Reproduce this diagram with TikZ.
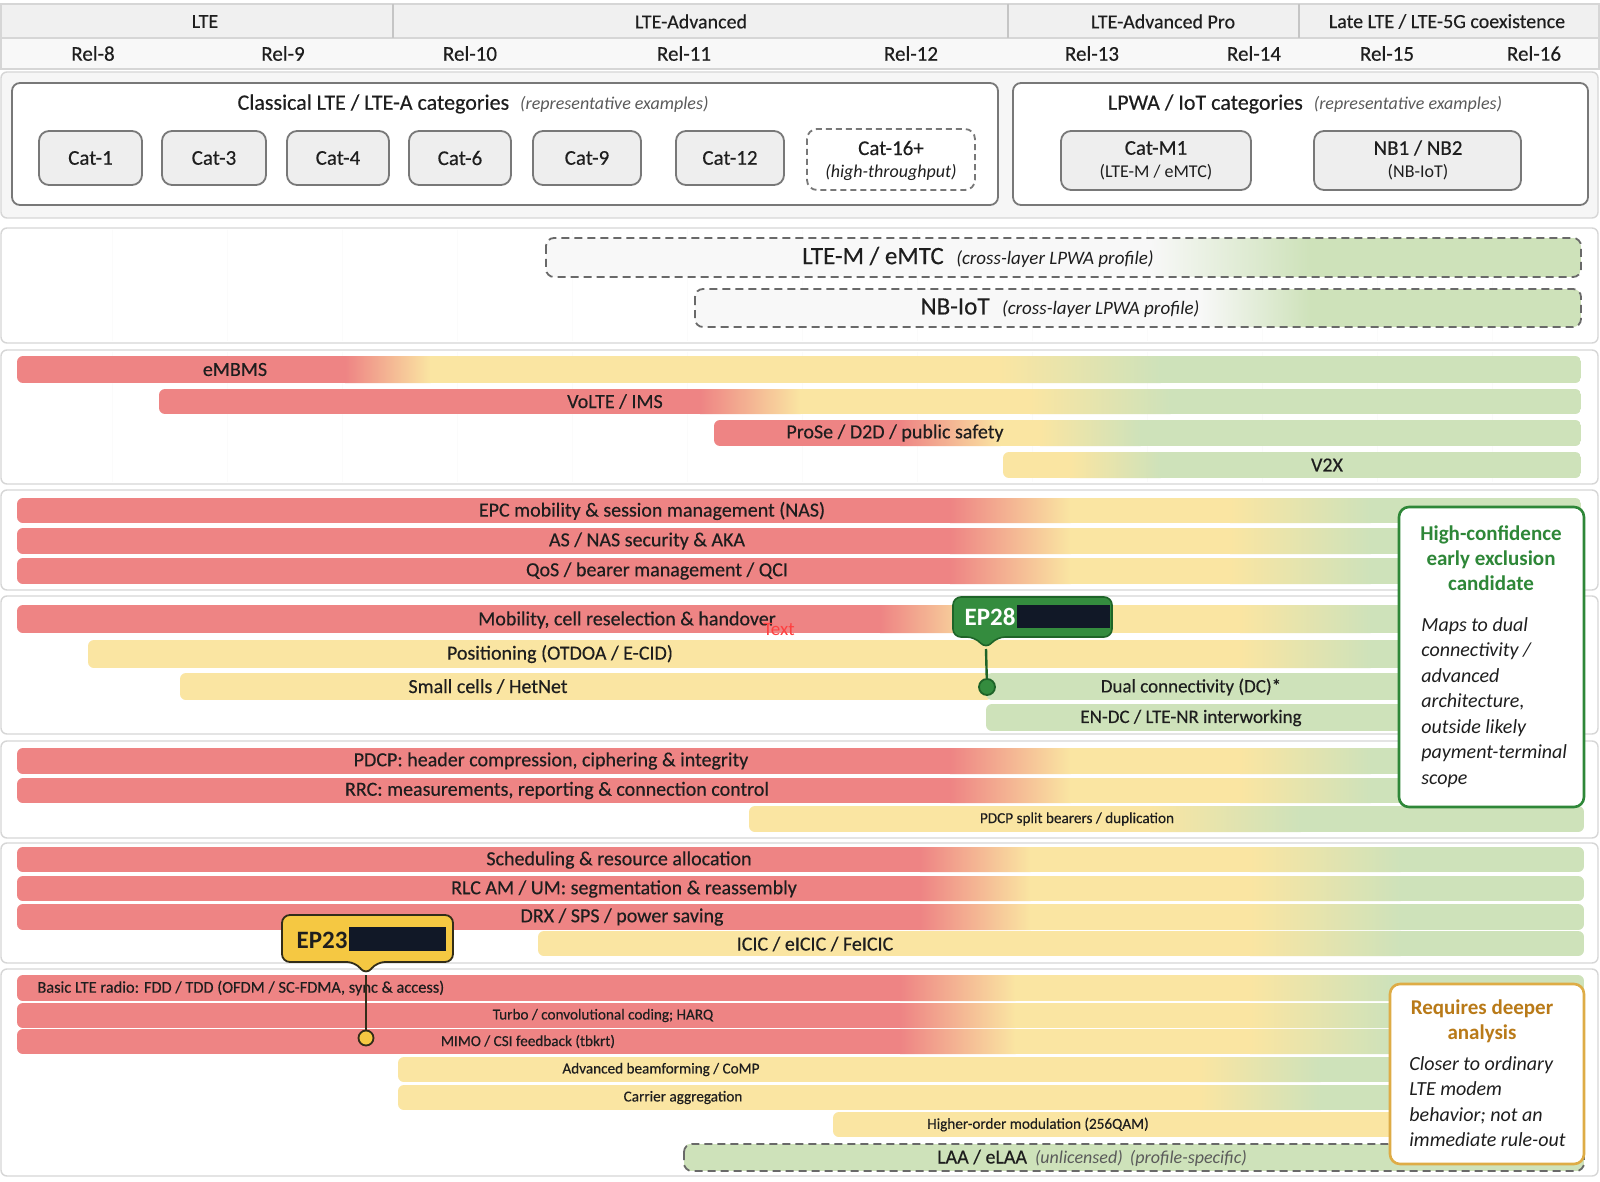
\documentclass[tikz,border=0pt]{standalone}
\usepackage{fontspec}
\setmainfont{Carlito}
\newfontfamily\medfont{Carlito}[FakeBold=0.35]
\usetikzlibrary{positioning}

% gradient bar: top, bottom, left, right, red end, yellow start, yellow end, green start
\newcommand{\gbar}[8]{%
  \begin{scope}
    \clip[rounded corners=3pt] (#3,#1) rectangle (#4,#2);
    \fill[barred] (#3,#1) rectangle (#5+0.5,#2);
    \shade[left color=barred,right color=baryel] (#5,#1) rectangle (#6+0.5,#2);
    \fill[baryel] (#6,#1) rectangle (#7+0.5,#2);
    \shade[left color=baryel,right color=bargrn] (#7,#1) rectangle (#8+0.5,#2);
    \fill[bargrn] (#8,#1) rectangle (#4,#2);
  \end{scope}}

% profile bar: top, bottom, left, right, fade start, green start
\newcommand{\pbar}[6]{%
  \begin{scope}
    \clip[rounded corners=4pt] (#3,#1) rectangle (#4,#2);
    \fill[proffill] (#3,#1) rectangle (#5+0.5,#2);
    \shade[left color=proffill,right color=bargrn] (#5,#1) rectangle (#6+0.5,#2);
    \fill[bargrn] (#6,#1) rectangle (#4,#2);
  \end{scope}
  \draw[profline] (#3,#1) rectangle (#4,#2);}

\begin{document}
\begin{tikzpicture}[x=0.5pt,y=-0.5pt,
    every node/.style={text=ink, inner sep=0pt},
    panel/.style={draw=panelline, fill=white, line width=0.7pt, rounded corners=3pt},
    catpanel/.style={draw=boxline, fill=white, line width=0.9pt, rounded corners=4pt},
    catbox/.style={draw=boxline, fill=catfill, line width=0.9pt, rounded corners=5pt},
    profline/.style={draw=dashgray, line width=0.9pt, rounded corners=4pt, dash pattern=on 4pt off 2.5pt},
    hdrlbl/.style={font=\medfont\fontsize{10}{12}\selectfont},
    rellbl/.style={font=\medfont\fontsize{10.5}{12}\selectfont},
    catlbl/.style={font=\medfont\fontsize{10.5}{12}\selectfont},
    sublbl/.style={font=\fontsize{9}{11}\selectfont},
    barlbl/.style={font=\medfont\fontsize{10}{12}\selectfont},
    smalllbl/.style={font=\medfont\fontsize{7.6}{9}\selectfont},
    eptag/.style={font=\bfseries\fontsize{12.5}{14}\selectfont},
  ]

    % Colors
    \definecolor{ink}{RGB}{30,30,30}
    \definecolor{panelline}{RGB}{214,214,214}
    \definecolor{panelfill}{RGB}{246,246,246}
    \definecolor{erafill}{RGB}{240,240,240}
    \definecolor{boxline}{RGB}{120,120,120}
    \definecolor{catfill}{RGB}{238,238,238}
    \definecolor{dashgray}{RGB}{105,105,105}
    \definecolor{proffill}{RGB}{248,248,248}
    \definecolor{barred}{RGB}{238,132,132}
    \definecolor{baryel}{RGB}{250,229,162}
    \definecolor{bargrn}{RGB}{206,226,186}
    \definecolor{epgreen}{RGB}{52,140,62}
    \definecolor{epgreendark}{RGB}{30,100,40}
    \definecolor{epyellow}{RGB}{245,200,66}
    \definecolor{epdark}{RGB}{50,45,25}
    \definecolor{redact}{RGB}{17,24,39}
    \definecolor{notegreen}{RGB}{46,135,56}
    \definecolor{noteorange}{RGB}{222,172,70}
    \definecolor{notebrown}{RGB}{185,122,24}
    \definecolor{notegray}{RGB}{90,90,90}

    \useasboundingbox (0,0) rectangle (1600,1182);
    \fill[white] (0,0) rectangle (1600,1182);

    % Header: eras and releases
    \draw[draw=panelline, fill=erafill, line width=0.8pt] (1,4) rectangle (1599,38);
    \draw[draw=panelline, fill=proffill, line width=0.8pt] (1,38) rectangle (1599,69);
    \foreach \x in {393,1008,1299} {
        \draw[panelline!80!gray, line width=0.8pt] (\x,4) -- (\x,38);
    }
    \node[hdrlbl] (lte)    at (205,21.5)  {LTE};
    \node[hdrlbl] (ltea)   at (691,21.5)  {LTE-Advanced};
    \node[hdrlbl] (lteapro) at (1163,21.5) {LTE-Advanced Pro};
    \node[hdrlbl] (late)   at (1447,21.5) {Late LTE / LTE-5G coexistence};
    \foreach \x/\r in {93/8,283/9,470/10,684/11,911/12,1092/13,1254/14,1387/15,1534/16} {
        \node[rellbl] (rel\r) at (\x,53.5) {Rel-\r};
    }

    % Categories
    \draw[panel, fill=panelfill] (1,72) rectangle (1598,218);
    \draw[catpanel] (12,83) rectangle (998,205);
    \draw[catpanel] (1013,83) rectangle (1588,205);
    \node (clatitle) at (473,104) {\medfont\fontsize{11}{13}\selectfont Classical LTE / LTE-A categories\hspace{0.5em}{\normalfont\itshape\fontsize{9}{11}\selectfont\color{notegray}(representative examples)}};
    \node (iottitle) at (1305,104) {\medfont\fontsize{11}{13}\selectfont LPWA / IoT categories\hspace{0.5em}{\normalfont\itshape\fontsize{9}{11}\selectfont\color{notegray}(representative examples)}};
    \foreach \nm/\xa/\xb/\txt in {cat1/39/142/Cat-1,cat3/162/266/Cat-3,cat4/287/389/Cat-4,cat6/409/511/Cat-6,cat9/533/641/Cat-9,cat12/676/784/Cat-12} {
        \draw[catbox] (\xa,131) rectangle (\xb,185);
        \node[catlbl] (\nm) at ({(\xa+\xb)/2},158) {\txt};
    }
    \draw[catbox, fill=white, dash pattern=on 3pt off 2pt] (807,129) rectangle (975,190);
    \node[catlbl] (cat16) at (891,148) {Cat-16+};
    \node[sublbl, font=\itshape\fontsize{9}{11}\selectfont] (cat16sub) at (891,172) {(high-throughput)};
    \draw[catbox] (1061,131) rectangle (1251,190);
    \node[catlbl] (catm1) at (1156,148) {Cat-M1};
    \node[sublbl] (catm1sub) at (1156,172) {(LTE-M / eMTC)};
    \draw[catbox] (1314,131) rectangle (1521,190);
    \node[catlbl] (nb) at (1418,148) {NB1 / NB2};
    \node[sublbl] (nbsub) at (1418,172) {(NB-IoT)};

    % Cross-layer profiles
    \draw[panel] (1,228) rectangle (1598,343);
    \draw[panel] (1,350) rectangle (1598,484);
    \foreach \ya/\yb in {230/341,352/482} {
        \foreach \x in {112,227,...,1500} {
            \draw[gray!3, line width=0.5pt] (\x,\ya) -- (\x,\yb);
        }
    }
    \pbar{238}{277}{546}{1581}{1150}{1310}
    \pbar{289}{327}{695}{1581}{1200}{1310}
    \node (ltem) at (978,257) {\medfont\fontsize{12.5}{14}\selectfont LTE-M / eMTC\hspace{0.5em}{\normalfont\itshape\fontsize{9.5}{11}\selectfont (cross-layer LPWA profile)}};
    \node (nbiot) at (1060,308) {\medfont\fontsize{12.5}{14}\selectfont NB-IoT\hspace{0.5em}{\normalfont\itshape\fontsize{9.5}{11}\selectfont (cross-layer LPWA profile)}};

    % Services
    \gbar{356}{383}{17}{1581}{345}{430}{1000}{1160}
    \gbar{389}{414}{159}{1581}{700}{800}{1030}{1170}
    \gbar{420}{446}{714}{1581}{900}{1000}{1040}{1140}
    \gbar{452}{478}{1003}{1581}{900}{990}{1070}{1160}
    \node[barlbl] (embms) at (235,369.5) {eMBMS};
    \node[barlbl] (volte) at (615,401.5) {VoLTE / IMS};
    \node[barlbl] (prose) at (895,433) {ProSe / D2D / public safety};
    \node[barlbl] (v2x)   at (1327,465) {V2X};

    % Core: NAS, security, QoS
    \draw[panel] (1,490) rectangle (1598,590);
    \gbar{498}{523}{17}{1581}{950}{1070}{1230}{1370}
    \gbar{528}{554}{17}{1581}{950}{1070}{1230}{1370}
    \gbar{558}{584}{17}{1581}{950}{1070}{1230}{1370}
    \node[barlbl] (epc) at (652,511) {EPC mobility \& session management (NAS)};
    \node[barlbl] (sec) at (647,541) {AS / NAS security \& AKA};
    \node[barlbl] (qos) at (657,571) {QoS / bearer management / QCI};

    % Mobility and RRM
    \draw[panel] (1,596) rectangle (1598,734);
    \gbar{605}{633}{17}{1581}{880}{980}{1240}{1370}
    \gbar{640}{668}{88}{1581}{0}{10}{1240}{1370}
    \gbar{673}{700}{180}{992}{0}{10}{2000}{2100}
    \gbar{673}{700}{986}{1581}{0}{10}{20}{30}
    \gbar{704}{731}{986}{1581}{0}{10}{20}{30}
    \node[barlbl] (mob)  at (627,620) {Mobility, cell reselection \& handover};
    \node[font=\fontsize{9.5}{11}\selectfont, text=red!75!white] (stray) at (779,629) {Text};
    \node[barlbl] (pos)  at (560,654) {Positioning (OTDOA / E-CID)};
    \node[barlbl] (het)  at (488,686.5) {Small cells / HetNet};
    \node[barlbl, font=\medfont\fontsize{9.5}{11}\selectfont] (dc)   at (1191,687) {Dual connectivity (DC)*};
    \node[barlbl, font=\medfont\fontsize{9.5}{11}\selectfont] (endc) at (1191,718) {EN-DC / LTE-NR interworking};

    % PDCP and RRC
    \draw[panel] (1,741) rectangle (1598,838);
    \gbar{748}{774}{17}{1581}{950}{1070}{1240}{1370}
    \gbar{778}{803}{17}{1581}{950}{1070}{1240}{1370}
    \gbar{806}{832}{749}{1584}{0}{10}{1150}{1300}
    \node[barlbl] (pdcp) at (551,761) {PDCP: header compression, ciphering \& integrity};
    \node[barlbl] (rrc)  at (557,790.5) {RRC: measurements, reporting \& connection control};
    \node[smalllbl] (split) at (1077,819) {PDCP split bearers / duplication};

    % MAC and RLC
    \draw[panel] (1,843) rectangle (1598,963);
    \gbar{847}{872}{17}{1584}{920}{1030}{1250}{1400}
    \gbar{876}{901}{17}{1584}{920}{1030}{1250}{1400}
    \gbar{904}{930}{17}{1584}{920}{1030}{1250}{1400}
    \gbar{931}{956}{538}{1584}{0}{10}{1250}{1400}
    \node[barlbl] (sched) at (619,860) {Scheduling \& resource allocation};
    \node[barlbl] (rlc)   at (624,889) {RLC AM / UM: segmentation \& reassembly};
    \node[barlbl] (drx)   at (622,917) {DRX / SPS / power saving};
    \node[barlbl] (icic)  at (815,944) {ICIC / eICIC / FeICIC};

    % Physical layer
    \draw[panel] (1,969) rectangle (1598,1176);
    \gbar{975}{1001}{17}{1584}{900}{1015}{1250}{1390}
    \gbar{1003}{1028}{17}{1584}{900}{1015}{1250}{1390}
    \gbar{1029}{1054}{17}{1584}{900}{1015}{1250}{1390}
    \gbar{1057}{1082}{398}{1584}{0}{10}{1200}{1320}
    \gbar{1085}{1110}{398}{1584}{0}{10}{1200}{1320}
    \gbar{1112}{1137}{833}{1420}{0}{10}{2000}{2100}
    \gbar{1144}{1171}{684}{1584}{0}{10}{20}{30}
    \draw[profline] (684,1144) rectangle (1584,1171);
    \node[smalllbl, font=\medfont\fontsize{8.2}{10}\selectfont, anchor=west] (basic) at (37,988) {Basic LTE radio: FDD / TDD (OFDM / SC-FDMA, sync \& access)};
    \node[smalllbl] (turbo) at (603,1015.5) {Turbo / convolutional coding; HARQ};
    \node[smalllbl] (mimo)  at (528,1041.5) {MIMO / CSI feedback (tbkrt)};
    \node[smalllbl] (bf)    at (661,1069.5) {Advanced beamforming / CoMP};
    \node[smalllbl] (ca)    at (683,1097.5) {Carrier aggregation};
    \node[smalllbl] (hom)   at (1038,1124.5) {Higher-order modulation (256QAM)};
    \node (laa) at (1092,1158) {\medfont\fontsize{10}{12}\selectfont LAA / eLAA\hspace{0.4em}{\normalfont\itshape\fontsize{9}{11}\selectfont\color{notegray}(unlicensed)\hspace{0.4em}(profile-specific)}};

    % EP28 callout
    \draw[fill=epgreen, draw=epgreendark, line width=0.8pt, rounded corners=4pt]
        (953,597) -- (1112,597) -- (1112,637) -- (997,637) -- (986,649) -- (975,637) -- (953,637) -- cycle;
    \fill[redact] (1017,605) rectangle (1110,628);
    \node[eptag, text=white] (ep28) at (990,617) {EP28};
    \coordinate (tip28) at (986,649);
    \node[circle, fill=epgreen, draw=epgreendark, line width=0.9pt, minimum size=8pt] (dot28) at (987,687) {};
    \draw[epgreendark, line width=1.2pt] (tip28) -- (dot28);

    % EP23 callout
    \draw[fill=epyellow, draw=epdark, line width=0.9pt, rounded corners=4pt]
        (282,915) -- (453,915) -- (453,962) -- (377,962) -- (366,975) -- (355,962) -- (282,962) -- cycle;
    \fill[redact] (349,927) rectangle (446,951);
    \node[eptag, text=ink] (ep23) at (322,940) {EP23};
    \coordinate (tip23) at (366,975);
    \node[circle, fill=epyellow, draw=epdark, line width=0.9pt, minimum size=7.5pt] (dot23) at (366,1038) {};
    \draw[epdark, line width=1.2pt] (tip23) -- (dot23);

    % Note: early exclusion
    \draw[fill=white, draw=notegreen, line width=1.3pt, rounded corners=5pt] (1399,507) rectangle (1584,807);
    \node[align=center, text=notegreen, font=\bfseries\fontsize{10.5}{12.6}\selectfont] (excl) at (1491,558)
        {High-confidence\\early exclusion\\candidate};
    \node[align=left, anchor=west, font=\itshape\fontsize{10}{12.75}\selectfont] (exclnote) at (1421,702.5)
        {Maps to dual\\connectivity /\\advanced\\architecture,\\outside likely\\payment-terminal\\scope};

    % Note: deeper analysis
    \draw[fill=white, draw=noteorange, line width=1.3pt, rounded corners=5pt] (1390,984) rectangle (1584,1164);
    \node[align=center, text=notebrown, font=\bfseries\fontsize{10.5}{12.6}\selectfont] (deeper) at (1482,1021)
        {Requires deeper\\analysis};
    \node[align=left, anchor=west, font=\itshape\fontsize{10}{12.75}\selectfont] (deepnote) at (1409,1101.5)
        {Closer to ordinary\\LTE modem\\behavior; not an\\immediate rule-out};

\end{tikzpicture}
\end{document}
